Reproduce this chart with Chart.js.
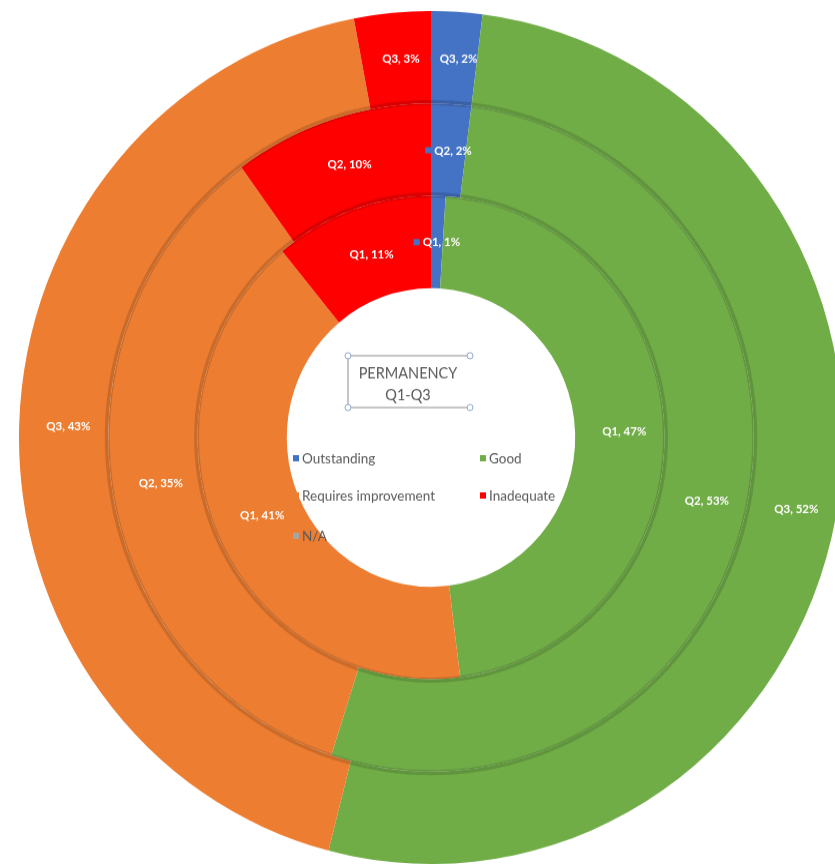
<!DOCTYPE html>
<html>
<head>
<meta charset="utf-8">
<script src="https://cdn.jsdelivr.net/npm/chart.js@4"></script>
<style>
  html, body { margin: 0; padding: 0; background: #fff; overflow: hidden; width: 835px; height: 868px; }
  /* the square chart is shown slightly stretched vertically */
  #wrap { position: absolute; left: 19px; top: 11px; width: 824px; height: 824px;
          transform: scaleY(1.0352); transform-origin: 0 0; }
</style>
</head>
<body>
<div id="wrap"><canvas id="c" width="824" height="824"></canvas></div>
<script>
// Rating categories and their colours
const categories = ['Outstanding', 'Good', 'Requires improvement', 'Inadequate', 'N/A'];
const colors = ['#4472C4', '#70AD47', '#ED7D31', '#FF0000', '#A5A5A5'];

// One ring per quarter, outermost first
const quarters = ['Q3', 'Q2', 'Q1'];
const q3Values = [2, 52, 43, 3, 0];
const q2Values = [2, 53, 35, 10, 0];
const q1Values = [1, 47, 41, 11, 0];

const titleLines = ['PERMANENCY', 'Q1-Q3'];

const ringValues = [q3Values, q2Values, q1Values];

// Darker seams where one ring meets the next
const ringSeams = {
  id: 'ringSeams',
  afterDatasetsDraw(chart) {
    const ctx = chart.ctx;
    ctx.save();
    chart.data.datasets.forEach((ds, di) => {
      if (di === chart.data.datasets.length - 1) return;
      chart.getDatasetMeta(di).data.forEach((arc) => {
        const p = arc.getProps(['x', 'y', 'startAngle', 'endAngle', 'innerRadius'], true);
        if (p.endAngle - p.startAngle <= 0) return;
        ctx.beginPath();
        ctx.arc(p.x, p.y, p.innerRadius + 1, p.startAngle, p.endAngle);
        ctx.strokeStyle = 'rgba(0,0,0,0.14)';
        ctx.lineWidth = 5;
        ctx.stroke();
      });
    });
    ctx.restore();
  }
};

// "Qn, v%" labels at the middle of each segment, with a legend-key square
const sliceLabels = {
  id: 'sliceLabels',
  afterDatasetsDraw(chart) {
    const ctx = chart.ctx;
    ctx.save();
    ctx.font = 'bold 11.5px Lato';
    ctx.textBaseline = 'middle';
    chart.data.datasets.forEach((ds, di) => {
      chart.getDatasetMeta(di).data.forEach((arc, i) => {
        const v = ds.data[i];
        if (!v) return;
        const p = arc.getProps(['x', 'y', 'startAngle', 'endAngle', 'innerRadius', 'outerRadius'], true);
        const mid = (p.startAngle + p.endAngle) / 2;
        const r = (p.innerRadius + p.outerRadius) / 2;
        const cx = p.x + Math.cos(mid) * r;
        const cy = p.y + Math.sin(mid) * r;
        const text = ds.label + ', ' + v + '%';
        const tw = ctx.measureText(text).width;
        const key = 6, gap = 3;
        const x0 = cx - (key + gap + tw) / 2;
        ctx.fillStyle = colors[i];
        ctx.fillRect(x0, cy - key / 2, key, key);
        ctx.fillStyle = '#ffffff';
        ctx.textAlign = 'left';
        ctx.fillText(text, x0 + key + gap, cy + 0.5);
      });
    });
    ctx.restore();
  }
};

// Title box and two-column legend inside the hole
const centreInfo = {
  id: 'centreInfo',
  afterDraw(chart) {
    const ctx = chart.ctx;
    const arc = chart.getDatasetMeta(0).data[0];
    const cx = arc.x, cy = arc.y;
    ctx.save();

    // title frame with handles
    const bx0 = cx - 83, bx1 = cx + 39, by0 = cy - 79, by1 = cy - 29;
    ctx.strokeStyle = '#8c8c8c';
    ctx.lineWidth = 1;
    ctx.beginPath();
    ctx.moveTo(bx0, by0); ctx.lineTo(bx1, by0);
    ctx.moveTo(bx0, by1); ctx.lineTo(bx1, by1);
    ctx.moveTo(bx0, by0); ctx.lineTo(bx0, by1);
    ctx.stroke();
    [[bx0, by0], [bx1, by0], [bx0, by1], [bx1, by1]].forEach(([hx, hy]) => {
      ctx.beginPath();
      ctx.arc(hx, hy, 3, 0, Math.PI * 2);
      ctx.fillStyle = '#ffffff';
      ctx.fill();
      ctx.strokeStyle = '#8fa6c8';
      ctx.stroke();
    });

    ctx.fillStyle = '#595959';
    ctx.font = '14.5px Lato';
    ctx.textAlign = 'center';
    ctx.textBaseline = 'middle';
    ctx.fillText(titleLines[0], cx - 23, cy - 62);
    ctx.fillText(titleLines[1], cx - 23, cy - 41);

    // legend
    const cols = [cx - 138, cx + 49];
    const rows = [cy + 20, cy + 56, cy + 95];
    ctx.font = '13.5px Lato';
    ctx.textAlign = 'left';
    categories.forEach((name, i) => {
      const x = cols[i % 2];
      const y = rows[Math.floor(i / 2)];
      ctx.fillStyle = colors[i];
      ctx.fillRect(x, y - 3, 6, 6);
      ctx.fillStyle = '#595959';
      ctx.fillText(name, x + 9, y + 0.5);
    });
    ctx.restore();
  }
};

new Chart(document.getElementById('c'), {
  type: 'doughnut',
  data: {
    labels: categories,
    datasets: ringValues.map((vals, k) => ({
      label: quarters[k],
      data: vals,
      backgroundColor: colors,
      borderWidth: 0
    }))
  },
  options: {
    responsive: false,
    devicePixelRatio: 1,
    animation: false,
    cutout: '35%',
    layout: { padding: 0 },
    plugins: {
      legend: { display: false },
      title: { display: false },
      tooltip: { enabled: false }
    }
  },
  plugins: [ringSeams, sliceLabels, centreInfo]
});
</script>
</body>
</html>
